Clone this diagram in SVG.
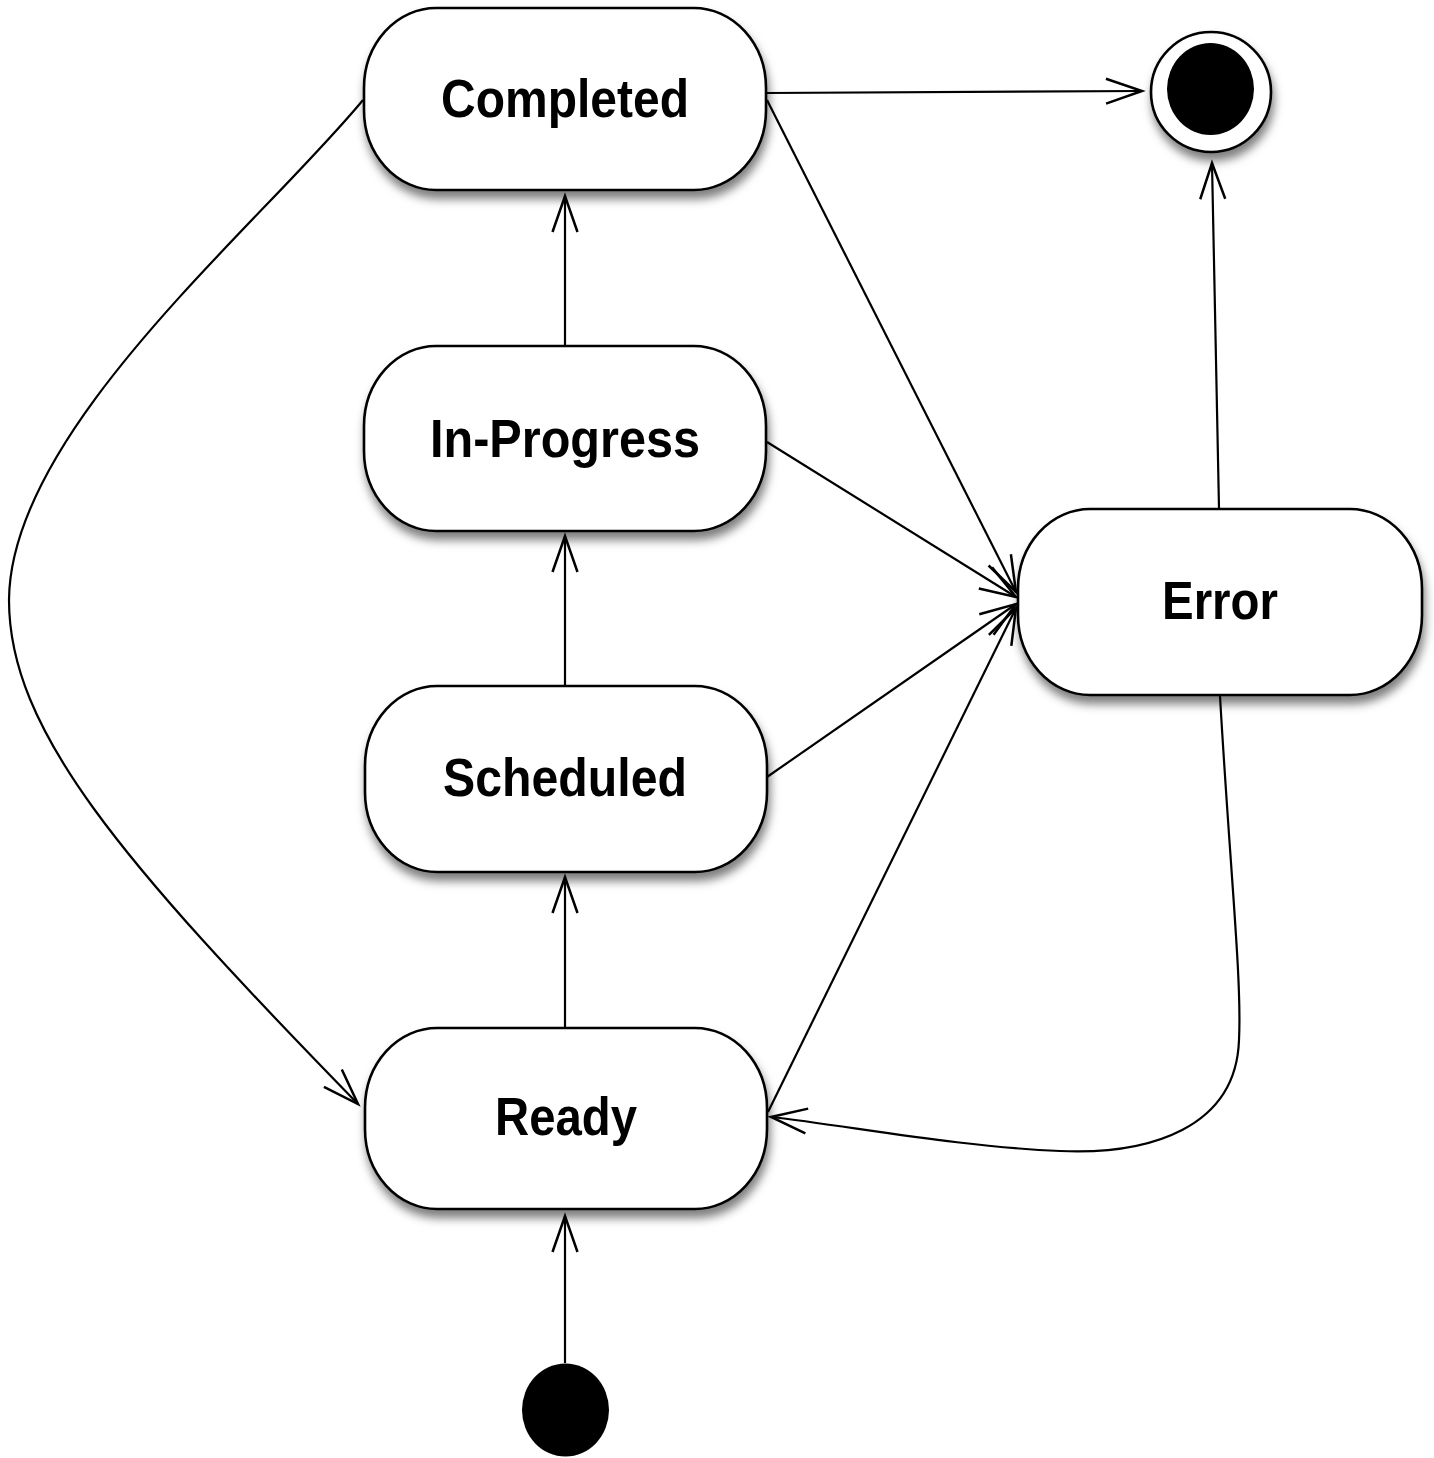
<svg xmlns="http://www.w3.org/2000/svg" width="1434" height="1458" viewBox="0 0 1434 1458">
<defs>
  <filter id="shadow" x="-10%" y="-10%" width="125%" height="135%">
    <feDropShadow dx="2" dy="8" stdDeviation="5" flood-color="#000" flood-opacity="0.5"/>
  </filter>
  <marker id="open" markerUnits="userSpaceOnUse" viewBox="-40 -16 44 32" refX="0" refY="0" markerWidth="44" markerHeight="32" orient="auto" overflow="visible">
    <path d="M-36,-12.5 L0,0 L-36,12.5" fill="none" stroke="#000" stroke-width="2.5"/>
  </marker>
</defs>
<style>
  .state { fill: #fff; stroke: #000; stroke-width: 2.6; filter: url(#shadow); }
  .label { font-family: "Liberation Sans", Arial, Helvetica, sans-serif; font-weight: bold; font-size: 53px; fill: #000; text-anchor: middle; }
  .edge { fill: none; stroke: #000; stroke-width: 2.2; marker-end: url(#open); }
</style>
<rect width="1434" height="1458" fill="#fff"/>

<g id="connectors">
  <path class="edge" d="M565,1363 L565,1216"/>
  <path class="edge" d="M565,1027 L565,877"/>
  <path class="edge" d="M565,686 L565,536"/>
  <path class="edge" d="M565,346 L565,196"/>
  <path class="edge" d="M767,93 L1142,91"/>
  <path class="edge" d="M1219,508 L1212,163"/>
  <path class="edge" d="M767,100 L1016,592"/>
  <path class="edge" d="M767,442 L1016,597"/>
  <path class="edge" d="M767,777 L1016,604"/>
  <path class="edge" d="M768,1112 L1016,608"/>
  <path class="edge" d="M363,100 C260,225 10,430 9,600 C9,730 120,860 358,1104"/>
  <path class="edge" d="M1220,696 C1230,870 1242,980 1239,1040 C1236,1128 1150,1155 1060,1151 C960,1147 850,1126 771,1117"/>
</g>

<g id="state-completed">
  <rect class="state" x="364" y="8" width="402" height="182" rx="72" ry="80"/>
  <text class="label" x="565" y="117" textLength="248" lengthAdjust="spacingAndGlyphs">Completed</text>
</g>
<g id="state-inprogress">
  <rect class="state" x="364" y="346" width="402" height="185" rx="72" ry="80"/>
  <text class="label" x="565" y="457" textLength="270" lengthAdjust="spacingAndGlyphs">In-Progress</text>
</g>
<g id="state-scheduled">
  <rect class="state" x="365" y="686" width="402" height="186" rx="72" ry="80"/>
  <text class="label" x="565" y="796" textLength="244" lengthAdjust="spacingAndGlyphs">Scheduled</text>
</g>
<g id="state-ready">
  <rect class="state" x="365" y="1028" width="402" height="181" rx="72" ry="80"/>
  <text class="label" x="566" y="1135" textLength="142" lengthAdjust="spacingAndGlyphs">Ready</text>
</g>
<g id="state-error">
  <rect class="state" x="1018" y="509" width="404" height="186" rx="72" ry="80"/>
  <text class="label" x="1220" y="619" textLength="116" lengthAdjust="spacingAndGlyphs">Error</text>
</g>
<g id="final-state">
  <circle cx="1211" cy="92" r="60" fill="#fff" stroke="#000" stroke-width="2.6" filter="url(#shadow)"/>
  <ellipse cx="1210.5" cy="89" rx="43.5" ry="46" fill="#000"/>
</g>
<g id="initial-state">
  <ellipse cx="565.5" cy="1410" rx="43.5" ry="46.5" fill="#000"/>
</g>
</svg>
